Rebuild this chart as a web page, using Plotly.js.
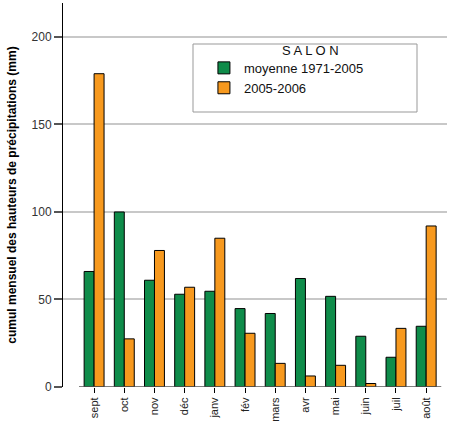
<!DOCTYPE html>
<html><head><meta charset="utf-8">
<script src="https://cdn.plot.ly/plotly-3.0.1.min.js"></script>
<style>body{margin:0;background:#fff}#c{width:451px;height:421px}</style>
</head><body><div id="c"></div>
<script>
var months = ['sept','oct','nov','déc','janv','fév','mars','avr','mai','juin','juil','août'];
var moyenne = [66, 100, 61, 53, 54.7, 44.8, 42, 62, 51.8, 29, 17, 34.7];
var saison = [179, 27.5, 78, 57, 85, 30.7, 13.5, 6.3, 12.4, 2, 33.5, 92];
var seriesNames = ['moyenne 1971-2005', '2005-2006'];
var legendTitle = 'S A L O N';
var yTitle = 'cumul mensuel des hauteurs de précipitations (mm)';

var idx = months.map(function(_, i){ return i; });
var font = 'Liberation Sans, Arial, sans-serif';
var traces = [
  {type:'bar', x: idx, y: moyenne, name: seriesNames[0],
   marker:{color:'#0f8c4a', line:{color:'#000', width:1}}},
  {type:'bar', x: idx, y: saison, name: seriesNames[1],
   marker:{color:'#f7991e', line:{color:'#000', width:1}}}
];
var layout = {
  width:451, height:421,
  margin:{l:63, r:4, t:3, b:34},
  paper_bgcolor:'#fff', plot_bgcolor:'#fff',
  font:{family:font, size:12, color:'#222'},
  barmode:'group', bargap:0.34, bargroupgap:0,
  showlegend:true,
  legend:{x:0.367, y:0.87, xanchor:'left', yanchor:'top', bgcolor:'rgba(0,0,0,0)',
    borderwidth:0, font:{family:font, size:13, color:'#111'},
    tracegroupgap:0, itemwidth:30},
  annotations:[{text:legendTitle, xref:'paper', yref:'paper', x:(310-63)/384, y:(387-50)/384,
    xanchor:'center', yanchor:'middle', showarrow:false, font:{family:font, size:13, color:'#111'}}],
  xaxis:{range:[-1.03, 11.69], tickmode:'array', tickvals: idx, ticktext: months,
    tickangle:-90, ticks:'outside', ticklen:5, tickcolor:'#000', showgrid:false,
    zeroline:false, showline:false, tickfont:{size:11, color:'#222'}},
  yaxis:{range:[0, 219.4], tickvals:[0,50,100,150,200], ticks:'outside', ticklen:8,
    tickcolor:'#555', tickwidth:1.5, showline:true, linecolor:'#000', linewidth:1,
    gridcolor:'#c8c8c8', gridwidth:1.5, zeroline:false,
    tickfont:{size:12, color:'#333'},
    title:{text:yTitle, font:{family:font, size:12, color:'#000', weight:'bold'}, standoff:12}},
  shapes:[
    {type:'line', xref:'x', yref:'y', x0:-0.5, x1:11.5, y0:0, y1:0,
     line:{color:'#555', width:1.5}},
    {type:'rect', xref:'paper', yref:'paper', x0:(193-63)/384, x1:(417-63)/384,
     y0:(387-112)/384, y1:(387-44)/384, line:{color:'#999', width:1}, fillcolor:'rgba(0,0,0,0)'}
  ]
};
Plotly.newPlot('c', traces, layout, {displayModeBar:false});
</script></body></html>
